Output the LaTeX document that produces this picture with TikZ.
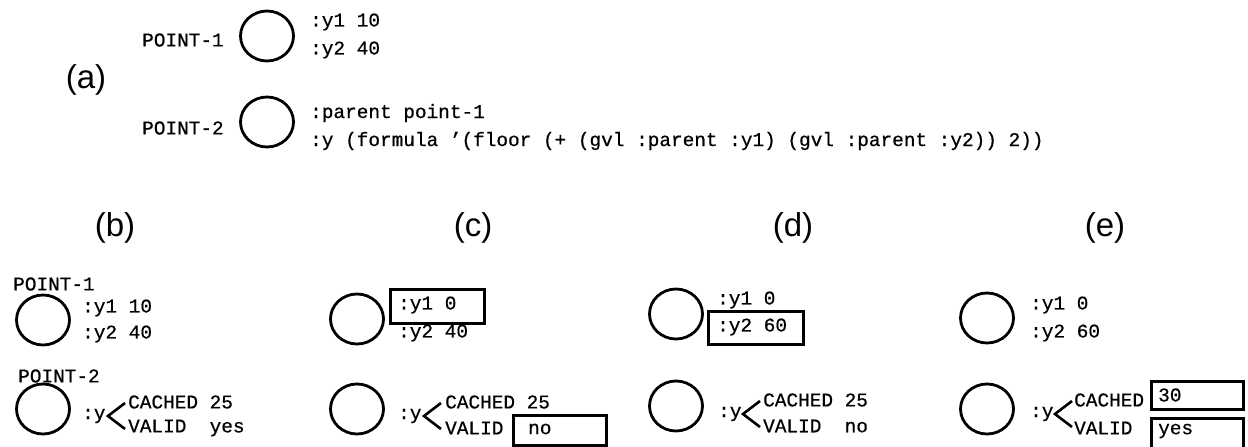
\documentclass[tikz,border=0pt]{standalone}
\usepackage{fontspec}
\setmainfont{Liberation Sans}
\newfontfamily\monofam[FakeBold=0.6]{Liberation Mono}
\usetikzlibrary{shapes.geometric}
\begin{document}
\begin{tikzpicture}[x=1pt,y=-1pt,
  mono/.style={font=\monofam\fontsize{19.4}{20}\selectfont, anchor=west, inner sep=0pt},
  lbl/.style={font=\fontsize{33}{36}\selectfont, inner sep=0pt},
  obj/.style={draw, line width=2.8pt, ellipse, minimum width=53pt, minimum height=50pt, inner sep=0pt},
  hbox/.style={draw, line width=2.8pt, rectangle, anchor=north west, inner sep=0pt},
  chev/.style={line width=2.6pt, line cap=butt, line join=miter}
]
\fill[white] (0,0) rectangle (1248,447);
\useasboundingbox (0,0) rectangle (1248,447);

% ---------- (a) ----------
\node[lbl] (la) at (86,80) {(a)};
\node[mono] (aP1) at (142,40) {POINT-1};
\node[obj] (a1) at (267,36) {};
\node[mono] (a1a) at (310,22) {:y1 10};
\node[mono] (a1b) at (310,50) {:y2 40};
\node[mono] (aP2) at (142,128) {POINT-2};
\node[obj] (a2) at (267,122) {};
\node[mono] (a2a) at (310,113) {:parent point-1};
\node[mono] (a2b) at (310,141) {:y (formula ’(floor (+ (gvl :parent :y1) (gvl :parent :y2)) 2))};

% ---------- (b) ----------
\node[lbl] (lb) at (115,228) {(b)};
\node[mono] (bP1) at (13,284) {POINT-1};
\node[obj] (b1) at (43,320) {};
\node[mono] (b1a) at (82,308) {:y1 10};
\node[mono] (b1b) at (82,334) {:y2 40};
\node[mono] (bP2) at (18,376) {POINT-2};
\node[obj] (b2) at (43,409) {};
\node[mono] (b2y) at (82,416) {:y};
\coordinate (b2k) at (125,403);
\draw[chev] (b2k) -- ++(-17,13) -- ++(17,13);
\node[mono] (b2c) at (128,402) {CACHED 25};
\node[mono] (b2v) at (128,428) {VALID~~yes};

% ---------- (c) ----------
\node[lbl] (lc) at (473,228) {(c)};
\node[obj] (c1) at (357,319) {};
\node[hbox, minimum width=94pt, minimum height=34pt] (c1box) at (389,288) {};
\node[mono] (c1a) at (398,305) {:y1 0};
\node[mono] (c1b) at (398,333) {:y2 40};
\node[obj] (c2) at (357,409) {};
\node[mono] (c2y) at (398,416) {:y};
\coordinate (c2k) at (441,403);
\draw[chev] (c2k) -- ++(-17,13) -- ++(17,13);
\node[mono] (c2c) at (445,402) {CACHED 25};
\node[mono] (c2v) at (445,428) {VALID};
\node[hbox, minimum width=93pt, minimum height=30pt] (c2box) at (512,414) {};
\node[mono] (c2n) at (528,429) {no};

% ---------- (d) ----------
\node[lbl] (ld) at (793,228) {(d)};
\node[obj] (d1) at (676,314) {};
\node[mono] (d1a) at (717,300) {:y1 0};
\node[hbox, minimum width=95pt, minimum height=33pt] (d1box) at (707,310) {};
\node[mono] (d1b) at (717,327) {:y2 60};
\node[obj] (d2) at (676,406) {};
\node[mono] (d2y) at (718,414) {:y};
\coordinate (d2k) at (760,401);
\draw[chev] (d2k) -- ++(-17,13) -- ++(17,13);
\node[mono] (d2c) at (763,400) {CACHED 25};
\node[mono] (d2v) at (763,426) {VALID~~no};

% ---------- (e) ----------
\node[lbl] (le) at (1105,228) {(e)};
\node[obj] (e1) at (987,318) {};
\node[mono] (e1a) at (1030,305) {:y1 0};
\node[mono] (e1b) at (1030,333) {:y2 60};
\node[obj] (e2) at (987,409) {};
\node[mono] (e2y) at (1030,414) {:y};
\coordinate (e2k) at (1072,401);
\draw[chev] (e2k) -- ++(-17,13) -- ++(17,13);
\node[mono] (e2c) at (1074,400) {CACHED};
\node[mono] (e2v) at (1074,428) {VALID};
\node[hbox, minimum width=92pt, minimum height=28pt] (e2box1) at (1150,380) {};
\node[mono] (e2n1) at (1158,395) {30};
\node[hbox, minimum width=92pt, minimum height=34pt] (e2box2) at (1150,417) {};
\node[mono] (e2n2) at (1158,431) {yes};
\end{tikzpicture}
\end{document}
